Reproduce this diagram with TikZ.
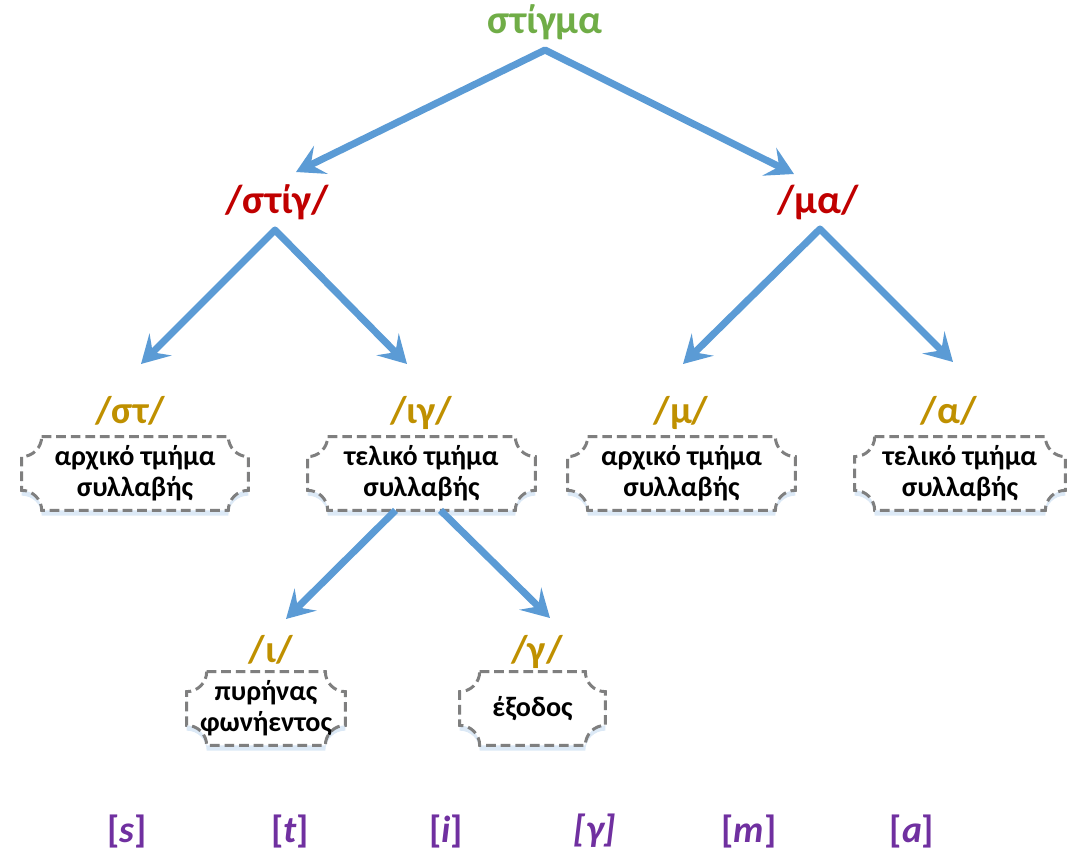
\documentclass[tikz,border=0pt]{standalone}
\usepackage{fontspec}
\setmainfont{Carlito}
\usetikzlibrary{arrows.meta,shadows}
\definecolor{stemgreen}{HTML}{70AD47}
\definecolor{sylred}{HTML}{C00000}
\definecolor{partgold}{HTML}{BF9000}
\definecolor{phonpurple}{HTML}{7030A0}
\definecolor{branchblue}{HTML}{5B9BD5}
\definecolor{framegray}{HTML}{7F7F7F}
\definecolor{glowblue}{HTML}{DCE9F6}
\pgfdeclarelayer{background}
\pgfsetlayers{background,main}
% dashed frame with concave corners round a box node
\newcommand\notchframe[1]{%
  \draw[frame] ([xshift=0.4cm]#1.north west) -- ([xshift=-0.4cm]#1.north east)
    arc[start angle=180,end angle=270,radius=0.4cm] -- ([yshift=0.4cm]#1.south east)
    arc[start angle=90,end angle=180,radius=0.4cm] -- ([xshift=0.4cm]#1.south west)
    arc[start angle=0,end angle=90,radius=0.4cm] -- ([yshift=-0.4cm]#1.north west)
    arc[start angle=270,end angle=360,radius=0.4cm] -- cycle;}
\begin{document}
\begin{tikzpicture}[x=0.02cm,y=-0.02cm,
    word/.style={font=\bfseries\fontsize{23}{27}\selectfont, text=stemgreen, anchor=base},
    syl/.style={font=\bfseries\fontsize{23}{27}\selectfont, text=sylred, anchor=base},
    part/.style={font=\bfseries\fontsize{22}{26}\selectfont, text=partgold, anchor=base},
    role/.style={font=\bfseries\fontsize{16}{17.6}\selectfont, align=center, inner sep=0pt,
      minimum height=1.46cm},
    phone/.style={font=\bfseries\fontsize{21.5}{25}\selectfont, text=phonpurple},
    frame/.style={draw=framegray, line width=1.7pt, dash pattern=on 5.5pt off 2.8pt,
      fill=white, drop shadow={shadow xshift=0pt, shadow yshift=-3pt, fill=glowblue, opacity=1}},
    branch/.style={draw=branchblue, line width=4pt, line join=round},
    Fork/.tip={Stealth[length=0.55cm, width=0.62cm, inset=0.22cm]}]
  \useasboundingbox (0,0) rectangle (1076,852);

  % labels
  \node[word] (stigma) at (545,33) {στίγμα};
  \node[syl] (stig) at (277,213) {/στίγ/};
  \node[syl] (ma) at (818,213) {/μα/};
  \node[part] (st) at (130,423) {/στ/};
  \node[part] (iy) at (421,423) {/ιγ/};
  \node[part] (mu) at (681,423) {/μ/};
  \node[part] (al) at (949,423) {/α/};
  \node[part] (io) at (271,662) {/ι/};
  \node[part] (ga) at (537,662) {/γ/};

  % boxes
  \node[role, minimum width=4.52cm] (st-box) at (135,473.5) {αρχικό τμήμα\\συλλαβής};
  \node[role, minimum width=4.54cm] (iy-box) at (421.5,473.5) {τελικό τμήμα\\συλλαβής};
  \node[role, minimum width=4.54cm] (mu-box) at (681.5,473.5) {αρχικό τμήμα\\συλλαβής};
  \node[role, minimum width=4.2cm] (al-box) at (960,473.5) {τελικό τμήμα\\συλλαβής};
  \node[role, minimum width=3.16cm] (io-box) at (266,708.5) {πυρήνας\\φωνήεντος};
  \node[role, minimum width=2.9cm] (ga-box) at (532.5,708.5) {έξοδος};
  \begin{pgfonlayer}{background}
    \foreach \b in {st-box,iy-box,mu-box,al-box,io-box,ga-box} {\notchframe{\b}}
  \end{pgfonlayer}

  % phones
  \node[phone] (ph-s) at (127,831) {[\textit{s}]};
  \node[phone] (ph-t) at (290,831) {[\textit{t}]};
  \node[phone] (ph-i) at (446,831) {[\textit{i}]};
  \node[phone] (ph-g) at (595,831) {\textit{[γ]}};
  \node[phone] (ph-m) at (749,831) {[\textit{m}]};
  \node[phone] (ph-a) at (912,831) {[\textit{a}]};

  % branches
  \coordinate (stigma-top) at (545,50);
  \coordinate (stig-in) at (296,172);
  \coordinate (ma-in) at (794,174);
  \coordinate (stig-top) at (275,230);
  \coordinate (st-in) at (141,364);
  \coordinate (iy-in) at (407,364);
  \coordinate (ma-top) at (820,229);
  \coordinate (mu-in) at (683,364);
  \coordinate (al-in) at (953,362);
  \coordinate (io-in) at (286,619);
  \coordinate (ga-in) at (550,618);
  \draw[branch, Fork-Fork] (stig-in) -- (stigma-top) -- (ma-in);
  \draw[branch, Fork-Fork] (st-in) -- (stig-top) -- (iy-in);
  \draw[branch, Fork-Fork] (mu-in) -- (ma-top) -- (al-in);
  \draw[branch, -Fork] ([xshift=-0.52cm]iy-box.south) -- (io-in);
  \draw[branch, -Fork] ([xshift=0.38cm]iy-box.south) -- (ga-in);
\end{tikzpicture}
\end{document}
